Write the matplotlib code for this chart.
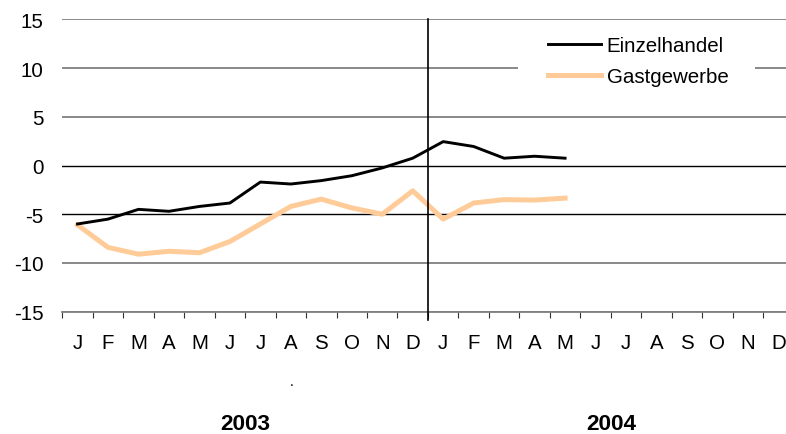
import numpy as np
import matplotlib
matplotlib.use('Agg')
import matplotlib.pyplot as plt
from matplotlib.patches import Rectangle

plt.rcParams['font.family'] = ['Liberation Sans', 'DejaVu Sans']
plt.rcParams['axes.unicode_minus'] = False

# Data (monthly values, 2003-2004)
months = ['J', 'F', 'M', 'A', 'M', 'J', 'J', 'A', 'S', 'O', 'N', 'D'] * 2
years = ['2003', '2004']
einzelhandel = [-6.0, -5.5, -4.5, -4.7, -4.2, -3.85, -1.7, -1.9, -1.55, -1.05, -0.25, 0.75,
                2.45, 1.95, 0.75, 0.95, 0.75]
gastgewerbe = [-6.1, -8.4, -9.1, -8.8, -8.95, -7.8, -6.0, -4.2, -3.45, -4.35, -5.0, -2.6,
               -5.5, -3.85, -3.5, -3.55, -3.35]
yticks = [15, 10, 5, 0, -5, -10, -15]

fig = plt.figure(figsize=(7.86, 4.35), dpi=100)
# right edge of the plot area runs past the figure border, as in the original
ax = fig.add_axes([62.3 / 786, 1 - 312.7 / 435, 731.3 / 786, 292.4 / 435])

x1 = np.arange(len(einzelhandel))
x2 = np.arange(len(gastgewerbe))
ax.plot(x2, gastgewerbe, color='#FFCC99', lw=3.6, label='Gastgewerbe', zorder=3)
ax.plot(x1, einzelhandel, color='black', lw=2.1, label='Einzelhandel', zorder=4)

ax.set_xlim(-0.5, len(months) - 0.5)
ax.set_ylim(-15, 15)

# horizontal grid
ax.set_yticks(yticks)
ax.yaxis.grid(True, color='#808080', lw=1.3, zorder=0)
for val, gl in zip(ax.get_yticks(), ax.get_ygridlines()):
    if val in (0, -5):
        gl.set_color('black')
        gl.set_linewidth(1.0)
ax.set_axisbelow(True)
ax.tick_params(axis='y', length=0, pad=13.5, labelsize=14.8)

# x axis: tick marks between months, labels at month centres
ax.set_xticks(np.arange(len(months) + 1) - 0.5)
ax.set_xticklabels([])
ax.set_xticks(np.arange(len(months)), minor=True)
ax.set_xticklabels(months, minor=True)
ax.tick_params(axis='x', which='major', direction='out', length=4.5, width=0.8, color='#333333')
ax.tick_params(axis='x', which='minor', length=0, pad=15, labelsize=14.8)

for s in ['top', 'right', 'left']:
    ax.spines[s].set_visible(False)
ax.spines['bottom'].set_color('#808080')
ax.spines['bottom'].set_linewidth(1.3)

# year separator
ax.axvline(11.5, ymin=-0.028, ymax=1, color='black', lw=1.2, clip_on=False, zorder=5)

# year labels
for i, yr in enumerate(years):
    ax.text(5.5 + 12 * i, -0.381, yr, transform=ax.get_xaxis_transform(),
            ha='center', va='center', fontsize=16.2, fontweight='bold')
ax.text(7.04, -0.25, '.', transform=ax.get_xaxis_transform(),
        ha='center', va='baseline', fontsize=10)

# white legend background that breaks the gridline
ax.add_patch(Rectangle(((518 - 62.3) / 731.3, (312.7 - 105) / 292.4),
                       (755 - 518) / 731.3, (105 - 28) / 292.4,
                       transform=ax.transAxes, facecolor='white', edgecolor='none', zorder=1))

handles, labels = ax.get_legend_handles_labels()
leg = ax.legend(handles[::-1], labels[::-1], loc='upper left',
                bbox_to_anchor=((548 - 62.3) / 731.3, (312.7 - 37) / 292.4),
                frameon=False, fontsize=14.8, handlelength=2.6, handletextpad=0.25,
                labelspacing=0.6, borderpad=0, borderaxespad=0)

fig.savefig('out.png', dpi=100)
